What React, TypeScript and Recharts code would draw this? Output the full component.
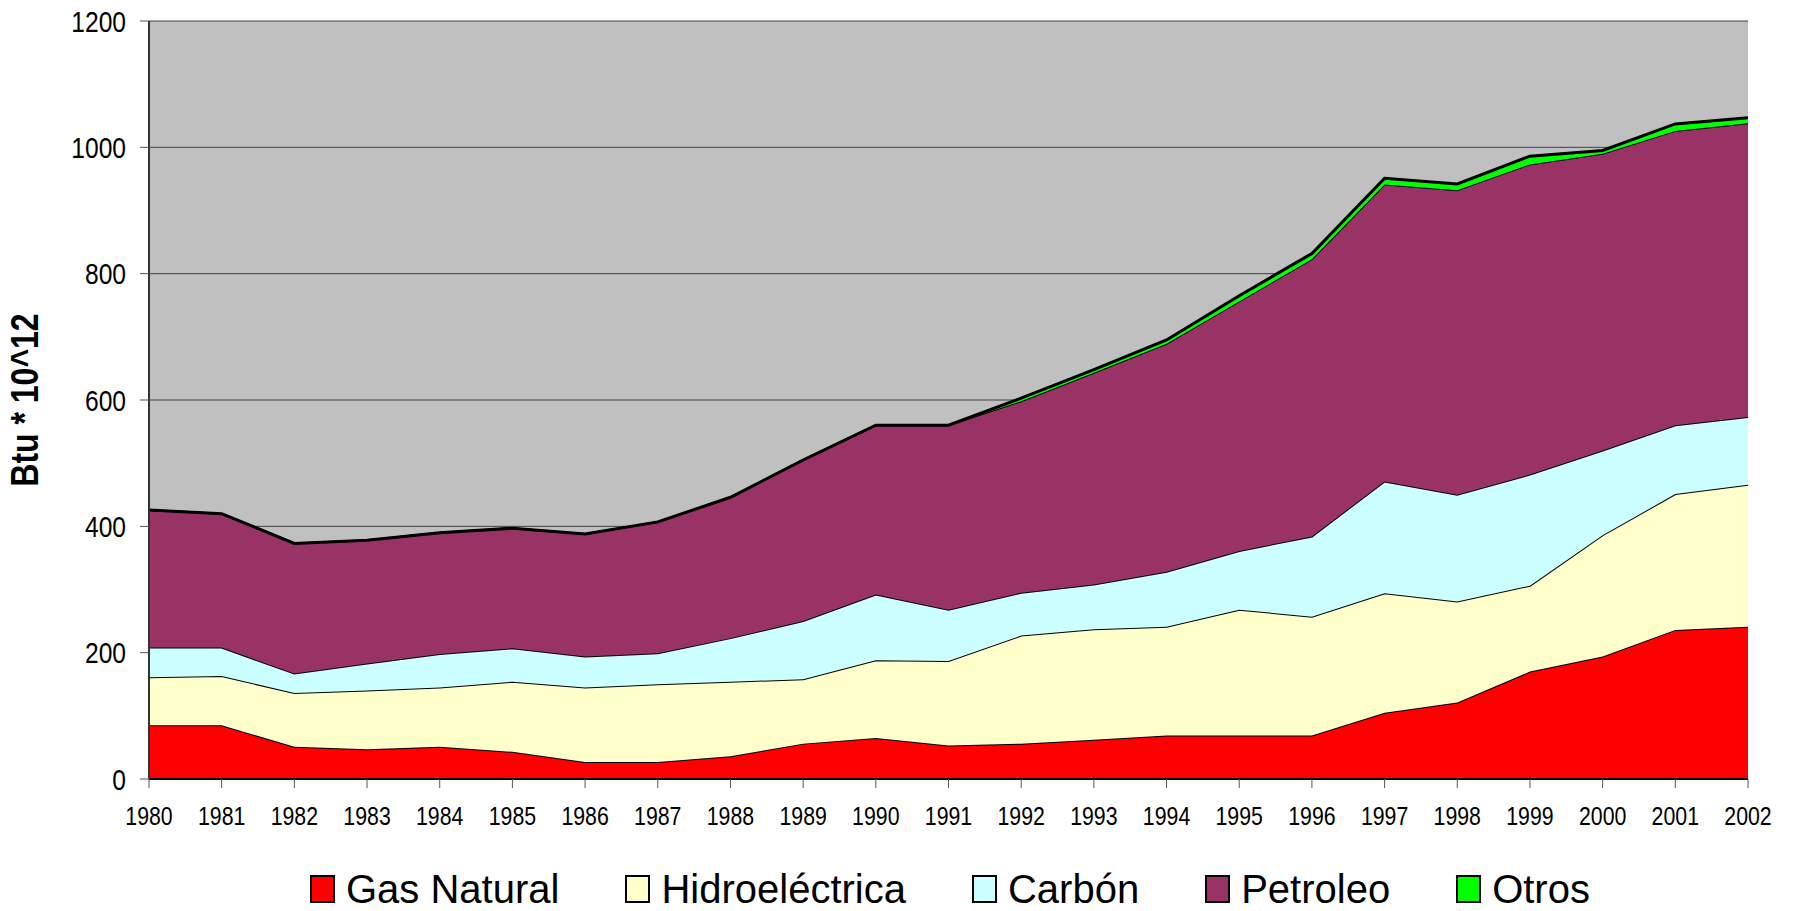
import { AreaChart, Area, XAxis, YAxis, CartesianGrid, Legend } from 'recharts';

const years = ['1980', '1981', '1982', '1983', '1984', '1985', '1986', '1987', '1988', '1989', '1990', '1991', '1992', '1993', '1994', '1995', '1996', '1997', '1998', '1999', '2000', '2001', '2002'];
const gasNatural = [85, 85, 51, 47, 51, 43, 27, 27, 36, 56, 65, 53, 56, 62, 69, 69, 69, 105, 121, 170, 194, 236, 241];
const hidroelectrica = [76, 78, 85, 93, 94, 111, 118, 123, 118, 102, 123, 134, 171, 175, 172, 199, 188, 189, 160, 136, 192, 215, 225];
const carbon = [47, 45, 31, 43, 53, 53, 49, 49, 69, 92, 104, 81, 68, 71, 87, 93, 127, 177, 169, 176, 134, 109, 107];
const petroleo = [218, 212, 206, 195, 192, 190, 194, 208, 223, 255, 268, 292, 303, 335, 361, 395, 439, 470, 482, 491, 470, 466, 465];
const otros = [0, 0, 0, 0, 0, 0, 0, 0, 0, 0, 0, 0, 5, 5, 6, 9, 9, 10, 10, 13, 5, 11, 9];
const yTicks = [0, 200, 400, 600, 800, 1000, 1200];

const series = [
  { key: 'gas', name: 'Gas Natural', fill: '#FF0000', values: gasNatural },
  { key: 'hidro', name: 'Hidroeléctrica', fill: '#FFFFCC', values: hidroelectrica },
  { key: 'carbon', name: 'Carbón', fill: '#CCFFFF', values: carbon },
  { key: 'petroleo', name: 'Petroleo', fill: '#993366', values: petroleo },
  { key: 'otros', name: 'Otros', fill: '#00FF00', values: otros },
];

const data = years.map((year, i) => {
  const row: Record<string, string | number> = { year };
  series.forEach((s) => {
    row[s.key] = s.values[i];
  });
  return row;
});

const FONT = '"Liberation Sans", Arial, sans-serif';
// el texto de Excel sale estrecho, lo comprimimos a mano
const NARROW = 0.82;

function XTick(props: any) {
  const { x, y, payload } = props;
  return (
    <g transform={`translate(${x},${y}) scale(${NARROW},1)`}>
      <text x={0} y={0} dy="0.71em" textAnchor="middle" fontFamily={FONT} fontSize={26} fill="#000">
        {payload.value}
      </text>
    </g>
  );
}

function YTick(props: any) {
  const { x, y, payload } = props;
  return (
    <g transform={`translate(${x},${y}) scale(${NARROW},1)`}>
      <text x={0} y={0} dy="0.355em" textAnchor="end" fontFamily={FONT} fontSize={30} fill="#000">
        {payload.value}
      </text>
    </g>
  );
}

function LegendBox() {
  return (
    <div style={{ display: 'flex', gap: 66, paddingLeft: 310, height: 50, alignItems: 'center', fontFamily: FONT }}>
      {series.map((s) => (
        <div key={s.key} style={{ display: 'flex', alignItems: 'center' }}>
          <span style={{ width: 21, height: 24, background: s.fill, border: '2px solid #000', display: 'inline-block', marginRight: 11 }} />
          <span style={{ fontSize: 40, color: '#000', lineHeight: '50px' }}>{s.name}</span>
        </div>
      ))}
    </div>
  );
}

function YLabel(props: any) {
  const vb = props.viewBox || {};
  const cx = vb.x + 25;
  const cy = vb.y + vb.height / 2;
  return (
    <text
      transform={`translate(${cx},${cy}) rotate(-90) scale(${NARROW},1)`}
      textAnchor="middle"
      dominantBaseline="central"
      fontFamily={FONT}
      fontWeight="bold"
      fontSize={39}
      fill="#000"
    >
      Btu * 10^12
    </text>
  );
}

export default function App() {
  return (
    <div style={{ position: 'absolute', left: 0, top: 0, background: '#fff' }}>
      <AreaChart width={1796} height={911} data={data} margin={{ top: 21, right: 48, left: 0, bottom: 22 }}>
        <CartesianGrid vertical={false} fill="#C0C0C0" stroke="#404040" strokeWidth={1} />
        <XAxis
          dataKey="year"
          height={60}
          tickSize={9}
          tickMargin={19}
          interval={0}
          axisLine={{ stroke: '#000', strokeWidth: 2 }}
          tickLine={{ stroke: '#555' }}
          tick={<XTick />}
        />
        <YAxis
          width={149}
          domain={[0, 1200]}
          ticks={yTicks}
          tickSize={9}
          tickMargin={14}
          axisLine={{ stroke: '#333', strokeWidth: 2 }}
          tickLine={{ stroke: '#555' }}
          tick={<YTick />}
          label={{ content: YLabel }}
        />
        {series.map((s) => (
          <Area
            key={s.key}
            type="linear"
            dataKey={s.key}
            name={s.name}
            stackId="1"
            fill={s.fill}
            fillOpacity={1}
            stroke="#000"
            strokeWidth={s.key === 'otros' ? 3 : 2}
            isAnimationActive={false}
            dot={false}
            activeDot={false}
          />
        ))}
        <Legend verticalAlign="bottom" content={() => <LegendBox />} wrapperStyle={{ top: 864, bottom: 'auto', left: 0, width: 1796 }} />
      </AreaChart>
    </div>
  );
}
